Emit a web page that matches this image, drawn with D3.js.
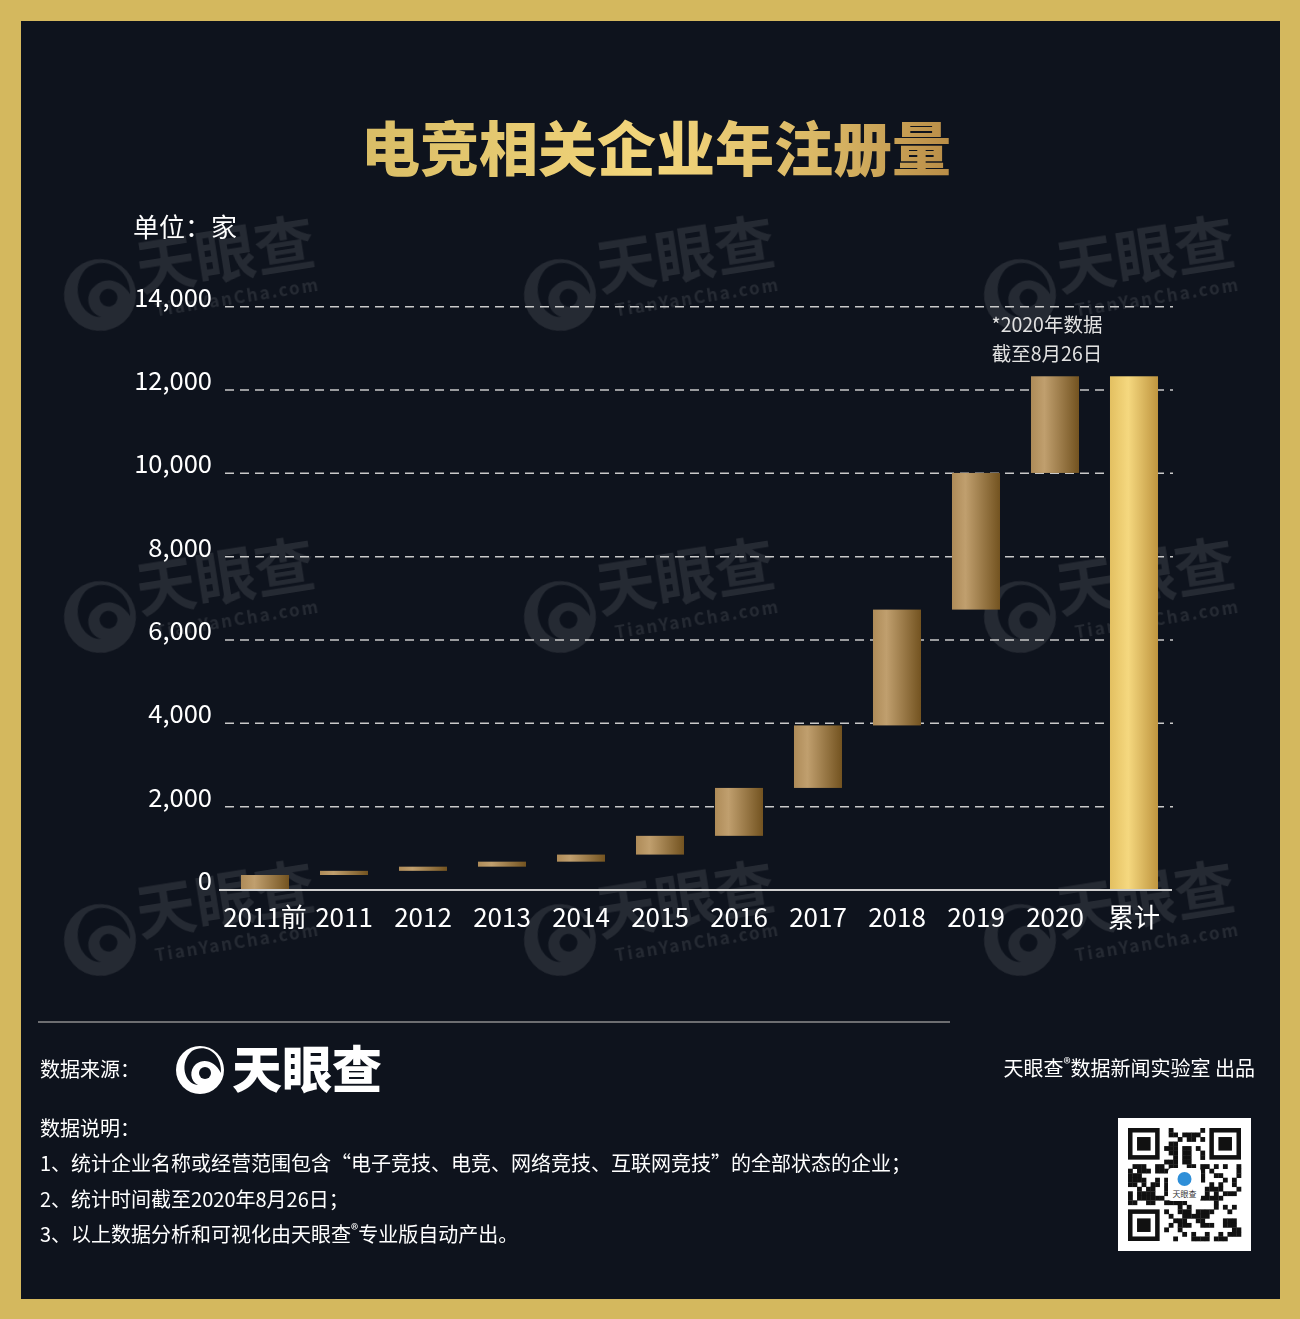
<!DOCTYPE html>
<html>
<head>
<meta charset="utf-8">
<script src="https://cdn.jsdelivr.net/npm/d3@7"></script>
<style>
  html, body { margin: 0; padding: 0; background: #d4b85e; }
  svg { display: block; }
  text { font-family: "Noto Sans CJK SC", "Noto Sans", sans-serif; }
</style>
</head>
<body>
<svg id="chart" width="1300" height="1319"></svg>
<script>
// ---------------- data ----------------
const categories = ["2011前", "2011", "2012", "2013", "2014", "2015", "2016", "2017", "2018", "2019", "2020", "累计"];
const increments = [360, 100, 100, 120, 170, 450, 1150, 1500, 2780, 3280, 2320];
const yTicks = [0, 2000, 4000, 6000, 8000, 10000, 12000, 14000];
const titleText = "电竞相关企业年注册量";
const unitText = "单位：家";
const noteLines = ["*2020年数据", "截至8月26日"];
const footNotes = [
  "1、统计企业名称或经营范围包含“电子竞技、电竞、网络竞技、互联网竞技”的全部状态的企业；",
  "2、统计时间截至2020年8月26日；"
];

// build waterfall rows
let run = 0;
const rows = increments.map((v, i) => {
  const r = { cat: categories[i], start: run, end: run + v, total: false };
  run += v;
  return r;
});
rows.push({ cat: categories[categories.length - 1], start: 0, end: run, total: true });

// ---------------- canvas ----------------
const svg = d3.select("#chart");
const W = 1300, H = 1319;
svg.append("rect").attr("x", 0).attr("y", 0).attr("width", W).attr("height", H).attr("fill", "#d4b85e");
svg.append("rect").attr("x", 21).attr("y", 21).attr("width", 1259).attr("height", 1278).attr("fill", "#0e131d");

const defs = svg.append("defs");
const gTitle = defs.append("linearGradient").attr("id", "gTitle").attr("x1", "0%").attr("x2", "100%").attr("y1", "0%").attr("y2", "0%");
gTitle.append("stop").attr("offset", "0%").attr("stop-color", "#d9bd66");
gTitle.append("stop").attr("offset", "50%").attr("stop-color", "#f3d67c");
gTitle.append("stop").attr("offset", "80%").attr("stop-color", "#d7b463");
gTitle.append("stop").attr("offset", "100%").attr("stop-color", "#b98d47");

const gBar = defs.append("linearGradient").attr("id", "gBar").attr("x1", "0%").attr("x2", "100%").attr("y1", "0%").attr("y2", "0%");
gBar.append("stop").attr("offset", "0%").attr("stop-color", "#ae8b58");
gBar.append("stop").attr("offset", "28%").attr("stop-color", "#c09f6e");
gBar.append("stop").attr("offset", "100%").attr("stop-color", "#735320");

const gTot = defs.append("linearGradient").attr("id", "gTot").attr("x1", "0%").attr("x2", "100%").attr("y1", "0%").attr("y2", "0%");
gTot.append("stop").attr("offset", "0%").attr("stop-color", "#e3c061");
gTot.append("stop").attr("offset", "38%").attr("stop-color", "#f5d87f");
gTot.append("stop").attr("offset", "100%").attr("stop-color", "#bf953f");

// ---------------- watermarks ----------------
const wm = svg.append("g").attr("opacity", 0.1);
[100, 560, 1020].forEach(cx => {
  [295, 617, 940].forEach(cy => {
    const g = wm.append("g").attr("transform", `translate(${cx},${cy}) rotate(-9)`);
    g.append("circle").attr("r", 36).attr("fill", "#ffffff");
    g.append("path").attr("d", "M-10,-28 C10,-40 34,-22 30,4 C22,-14 6,-18 -6,-8 C-16,0 -14,16 -2,22 C-22,20 -30,-12 -10,-28 Z").attr("fill", "#0e131d");
    g.append("circle").attr("cx", 8).attr("cy", 4).attr("r", 9).attr("fill", "#0e131d");
    g.append("text").attr("x", 40).attr("y", 2).attr("font-size", 60).attr("font-weight", 700).attr("fill", "#ffffff").text("天眼查");
    g.append("text").attr("x", 52).attr("y", 30).attr("font-size", 17).attr("font-weight", 700).attr("letter-spacing", 2).attr("fill", "#ffffff").text("TianYanCha.com");
  });
});

// ---------------- title ----------------
svg.append("text").attr("x", 656).attr("y", 171).attr("text-anchor", "middle")
  .attr("font-size", 59).attr("font-weight", 900).attr("fill", "url(#gTitle)").text(titleText);

svg.append("text").attr("x", 133).attr("y", 237).attr("font-size", 26).attr("fill", "#ffffff").text(unitText);

// ---------------- scales ----------------
const x = d3.scaleBand().domain(categories).range([225.5, 1173.5]).paddingInner(0.392).paddingOuter(0.196);
const y = d3.scaleLinear().domain([0, 14000]).range([890, 306.7]);

// grid lines
const grid = svg.append("g");
grid.selectAll("line").data(yTicks.filter(d => d > 0)).join("line")
  .attr("x1", 225).attr("x2", 1173)
  .attr("y1", d => y(d)).attr("y2", d => y(d))
  .attr("stroke", "#c9c9c9").attr("stroke-width", 1.5).attr("stroke-dasharray", "9,6");

// y axis labels
const yAxis = d3.axisLeft(y).tickValues(yTicks).tickSize(0).tickPadding(0).tickFormat(d3.format(","));
const yg = svg.append("g").attr("transform", "translate(212,0)").call(yAxis);
yg.select(".domain").remove();
yg.selectAll("text").attr("font-size", 25.5).attr("fill", "#ffffff")
  .attr("font-family", "\"Noto Sans CJK SC\", sans-serif").attr("dy", "-0.02em").attr("text-anchor", "end");

// bars
svg.append("g").selectAll("rect").data(rows).join("rect")
  .attr("x", d => x(d.cat))
  .attr("width", x.bandwidth())
  .attr("y", d => y(d.end))
  .attr("height", d => y(d.start) - y(d.end))
  .attr("fill", d => d.total ? "url(#gTot)" : "url(#gBar)");

// baseline
svg.append("line").attr("x1", 219).attr("x2", 1172).attr("y1", 890).attr("y2", 890)
  .attr("stroke", "#cfcfcf").attr("stroke-width", 2);

// x axis labels
const xAxis = d3.axisBottom(x).tickSize(0).tickPadding(0);
const xg = svg.append("g").attr("transform", "translate(0,890)").call(xAxis);
xg.select(".domain").remove();
xg.selectAll("text").attr("font-size", 26).attr("fill", "#ffffff")
  .attr("font-family", "\"Noto Sans CJK SC\", sans-serif").attr("dy", null).attr("y", 37);

// annotation
noteLines.forEach((t, i) => {
  svg.append("text").attr("x", 1047).attr("y", 332 + i * 29).attr("text-anchor", "middle")
    .attr("font-size", 19.5).attr("fill", "#e2e2e2").text(t);
});

// ---------------- footer ----------------
svg.append("line").attr("x1", 38).attr("x2", 950).attr("y1", 1022).attr("y2", 1022)
  .attr("stroke", "#8e8e8e").attr("stroke-width", 1.5);

svg.append("text").attr("x", 40).attr("y", 1077).attr("font-size", 20).attr("fill", "#ffffff").text("数据来源：");

// logo
const logo = svg.append("g").attr("transform", "translate(200,1070)");
logo.append("circle").attr("r", 24).attr("fill", "#ffffff");
logo.append("path").attr("d", "M-8,-19 C6,-27 22,-16 21,3 C15,-9 4,-12 -4,-6 C-11,0 -10,11 -2,15 C-16,14 -21,-8 -8,-19 Z").attr("fill", "#0e131d");
logo.append("circle").attr("cx", 5).attr("cy", 3).attr("r", 6).attr("fill", "#0e131d");
svg.append("text").attr("x", 232).attr("y", 1088).attr("font-size", 50).attr("font-weight", 900)
  .attr("fill", "#ffffff").text("天眼查");

const credit = svg.append("text").attr("x", 1255).attr("y", 1076).attr("text-anchor", "end")
  .attr("font-size", 20).attr("fill", "#ffffff");
credit.append("tspan").text("天眼查");
credit.append("tspan").attr("font-size", 15).attr("dy", -7).text("®");
credit.append("tspan").attr("dy", 7).text("数据新闻实验室 出品");

svg.append("text").attr("x", 40).attr("y", 1136).attr("font-size", 20).attr("fill", "#ffffff").text("数据说明：");
footNotes.forEach((t, i) => {
  svg.append("text").attr("x", 40).attr("y", 1171 + i * 36).attr("font-size", 20).attr("fill", "#ffffff").text(t);
});
const l3 = svg.append("text").attr("x", 40).attr("y", 1242).attr("font-size", 20).attr("fill", "#ffffff");
l3.append("tspan").text("3、以上数据分析和可视化由天眼查");
l3.append("tspan").attr("font-size", 15).attr("dy", -7).text("®");
l3.append("tspan").attr("dy", 7).text("专业版自动产出。");

// QR-like badge
const qr = svg.append("g").attr("transform", "translate(1118,1118)");
qr.append("rect").attr("width", 133).attr("height", 133).attr("fill", "#ffffff");
const n = 25, cell = 113 / n, off = 10;
let seed = 7;
function next() { seed = (seed * 1103515245 + 12345) % 2147483648; return seed / 2147483648; }
const inFinder = (r, c) => (r < 8 && c < 8) || (r < 8 && c >= n - 8) || (r >= n - 8 && c < 8);
for (let r = 0; r < n; r++) {
  for (let c = 0; c < n; c++) {
    if (inFinder(r, c)) continue;
    if (r >= 9 && r <= 15 && c >= 9 && c <= 15) continue;
    if (next() < 0.5) qr.append("rect").attr("x", off + c * cell).attr("y", off + r * cell)
      .attr("width", cell + 0.3).attr("height", cell + 0.3).attr("fill", "#111");
  }
}
[[0, 0], [0, n - 7], [n - 7, 0]].forEach(([r, c]) => {
  qr.append("rect").attr("x", off + c * cell).attr("y", off + r * cell).attr("width", 7 * cell).attr("height", 7 * cell).attr("fill", "#111");
  qr.append("rect").attr("x", off + (c + 1) * cell).attr("y", off + (r + 1) * cell).attr("width", 5 * cell).attr("height", 5 * cell).attr("fill", "#fff");
  qr.append("rect").attr("x", off + (c + 2) * cell).attr("y", off + (r + 2) * cell).attr("width", 3 * cell).attr("height", 3 * cell).attr("fill", "#111");
});
qr.append("rect").attr("x", 50).attr("y", 50).attr("width", 33).attr("height", 33).attr("rx", 4).attr("fill", "#fff");
qr.append("circle").attr("cx", 66.5).attr("cy", 61).attr("r", 7).attr("fill", "#2f8fd8");
qr.append("text").attr("x", 66.5).attr("y", 79).attr("text-anchor", "middle").attr("font-size", 8).attr("fill", "#333").text("天眼查");
</script>
</body>
</html>
